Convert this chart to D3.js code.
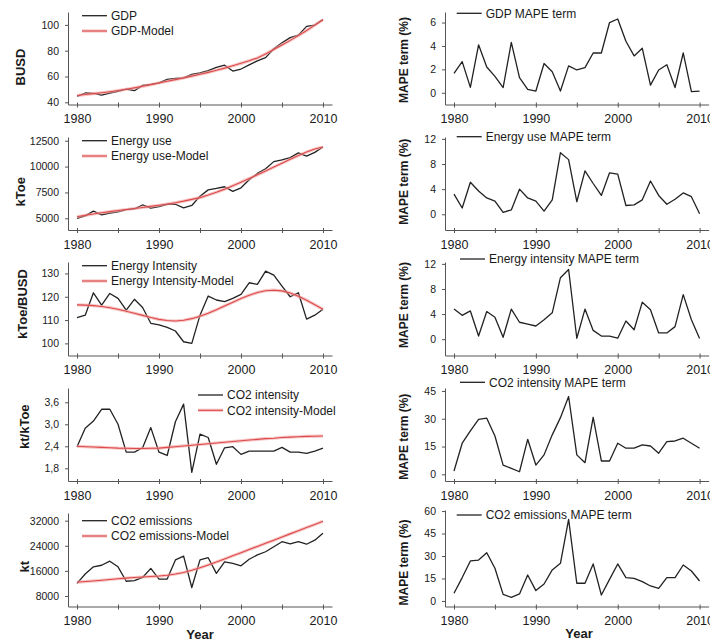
<!DOCTYPE html>
<html><head><meta charset="utf-8">
<script src="https://cdn.jsdelivr.net/npm/d3@7"></script>
<style>
body{margin:0;background:#fff}
svg{display:block;font-family:"Liberation Sans",Arial,sans-serif}
</style>
</head><body>
<svg id="c" width="710" height="643"></svg>
<script>
// ---------------- DATA ----------------
const years = [1980,1981,1982,1983,1984,1985,1986,1987,1988,1989,1990,1991,1992,1993,1994,1995,1996,1997,1998,1999,2000,2001,2002,2003,2004,2005,2006,2007,2008,2009,2010];
const xMajorTicks = [1980,1990,2000,2010];
const xMinorTicks = [1985,1995,2005];

const gdp       = [44.6,47.2,46.9,45.5,47.1,48.4,50.3,49.0,53.1,53.9,55.1,57.7,58.6,59.0,61.7,62.9,64.6,67.0,68.8,64.2,65.8,69.0,72.1,74.6,81.5,86.1,90.1,92.1,98.9,99.9,104.2];
const gdpModel  = [45.3,46.0,46.7,47.4,48.2,49.1,50.1,51.2,52.4,53.7,55.0,56.3,57.6,58.9,60.3,61.7,63.2,64.8,66.5,68.3,70.2,72.2,74.4,77.5,81.0,84.5,88.0,91.7,95.6,99.8,104.0];
const gdpMape   = [1.66,2.66,0.46,4.1,2.2,1.4,0.45,4.3,1.3,0.3,0.15,2.5,1.8,0.15,2.3,1.95,2.15,3.4,3.4,6.0,6.3,4.4,3.15,3.8,0.65,1.95,2.4,0.45,3.4,0.1,0.15];

const energy      = [4985,5240,5700,5335,5500,5630,5830,5910,6290,5990,6130,6350,6360,6010,6240,7140,7750,7890,8050,7610,7950,8720,9340,9790,10480,10640,10870,11330,11010,11370,11890];
const energyModel = [5150,5290,5420,5540,5650,5750,5850,5950,6050,6150,6260,6380,6510,6660,6830,7000,7250,7520,7820,8150,8490,8840,9200,9570,9950,10330,10700,11060,11400,11700,11900];
const energyMape  = [3.2,1.0,5.1,3.7,2.6,2.1,0.3,0.7,4.0,2.6,2.1,0.5,2.3,9.8,8.7,2.0,6.9,4.9,3.0,6.6,6.4,1.4,1.5,2.3,5.3,3.0,1.6,2.4,3.4,2.8,0.1];

const intensity      = [111.0,112.1,121.7,116.4,121.4,119.3,114.3,118.9,115.4,108.6,107.9,106.9,105.3,100.7,100.0,112.1,120.3,118.6,117.9,119.3,121.0,126.0,125.3,131.0,129.3,124.6,120.0,121.7,110.4,112.1,114.6];
const intensityModel = [116.5,116.4,116.2,115.8,115.3,114.6,113.8,112.9,112.0,111.1,110.3,109.8,109.6,109.9,110.6,111.6,112.9,114.4,116.0,117.6,119.2,120.6,121.8,122.6,122.8,122.5,121.6,120.2,118.5,116.6,114.6];
const intensityMape  = [4.8,3.8,4.5,0.5,4.4,3.5,0.3,4.8,2.7,2.4,2.1,3.1,4.2,9.8,11.1,0.15,4.8,1.4,0.5,0.5,0.15,2.9,1.5,5.9,4.7,1.0,1.0,2.0,7.1,3.1,0.1];

const co2Int      = [2.39,2.89,3.09,3.41,3.41,3.00,2.24,2.24,2.36,2.91,2.24,2.15,3.07,3.55,1.69,2.73,2.64,1.91,2.36,2.39,2.18,2.27,2.27,2.27,2.27,2.37,2.24,2.24,2.21,2.27,2.35];
const co2IntModel = [2.40,2.39,2.38,2.37,2.36,2.35,2.345,2.34,2.34,2.345,2.35,2.37,2.39,2.41,2.43,2.45,2.47,2.49,2.51,2.53,2.55,2.57,2.59,2.61,2.62,2.64,2.65,2.66,2.67,2.675,2.68];
const co2IntMape  = [1.8,16.8,23.4,29.7,30.3,20.7,5.0,3.2,1.4,18.9,5.0,10.5,21.3,30.6,42.0,10.5,6.3,30.8,7.2,7.2,16.8,14.1,14.1,15.9,15.3,11.4,17.7,18.0,19.5,16.8,14.1];

const co2Em      = [12000,15000,17300,17800,19100,17300,12700,12900,13900,16800,13400,13400,19500,20700,10700,19500,20200,15200,18900,18400,17600,19700,21100,22100,23700,25300,24600,25300,24500,25800,28000];
const co2EmModel = [12400,12600,12800,13000,13250,13500,13700,13900,14050,14200,14350,14600,15000,15500,16200,17000,17900,18800,19800,20800,21800,22800,23800,24800,25800,26800,27800,28800,29800,30800,31800];
const co2EmMape  = [5.1,15.6,26.7,27.3,32.2,21.8,4.4,2.4,4.7,17.3,6.9,11.3,20.7,25.1,54.4,11.8,11.8,24.7,4.0,14.4,24.7,15.6,15.1,12.9,10.0,8.4,15.6,15.6,24.0,20.0,13.3];

const gdpTicks = [40,60,80,100];
const energyTicks = [5000,7500,10000,12500];
const intensityTicks = [100,110,120,130];
const co2IntTicks = [1.8,2.4,3.0,3.6];
const co2IntTickLabels = ["1,8","2,4","3,0","3,6"];
const co2EmTicks = [8000,16000,24000,32000];
const gdpMapeTicks = [0,2,4,6];
const energyMapeTicks = [0,4,8,12];
const intensityMapeTicks = [0,4,8,12];
const co2IntMapeTicks = [0,15,30,45];
const co2EmMapeTicks = [0,15,30,45,60];

// ---------------- LAYOUT ----------------
const svg = d3.select("#c");
const cols = [{x0:68, x1:332}, {x0:445, x1:708.6}];
const rows = [{top:12,bottom:104.5},{top:137,bottom:230},{top:262,bottom:355.5},{top:388,bottom:481},{top:513,bottom:606.5}];

const panels = [
  {col:0,row:0,domain:[38.3,110],ticks:gdpTicks,title:"BUSD",tx:20,ty:67,
   black:gdp,red:gdpModel,legend:["GDP","GDP-Model"],lx:82,ly:15.7},
  {col:1,row:0,domain:[-1,6.9],ticks:gdpMapeTicks,title:"MAPE term (%)",tx:404,ty:60,
   black:gdpMape,legend:["GDP MAPE term"],lx:456.7,ly:13.3},
  {col:0,row:1,domain:[3870,12860],ticks:energyTicks,title:"kToe",tx:20,ty:191.7,
   black:energy,red:energyModel,legend:["Energy use","Energy use-Model"],lx:82,ly:140.7},
  {col:1,row:1,domain:[-2.5,12.3],ticks:energyMapeTicks,title:"MAPE term (%)",tx:404,ty:181.7,
   black:energyMape,legend:["Energy use MAPE term"],lx:456.7,ly:136.7},
  {col:0,row:2,domain:[94.8,134.9],ticks:intensityTicks,title:"kToe/BUSD",tx:22,ty:304,
   black:intensity,red:intensityModel,legend:["Energy Intensity","Energy Intensity-Model"],lx:82,ly:265.7},
  {col:1,row:2,domain:[-2.6,12.3],ticks:intensityMapeTicks,title:"MAPE term (%)",tx:404,ty:305,
   black:intensityMape,legend:["Energy intensity MAPE term"],lx:460,ly:259},
  {col:0,row:3,domain:[1.454,3.99],ticks:co2IntTicks,tickLabels:co2IntTickLabels,title:"kt/kToe",tx:24,ty:426.7,
   black:co2Int,red:co2IntModel,legend:["CO2 intensity","CO2 intensity-Model"],lx:198,ly:395},
  {col:1,row:3,domain:[-3.6,46.6],ticks:co2IntMapeTicks,title:"MAPE term (%)",tx:404,ty:436.7,
   black:co2IntMape,legend:["CO2 intensity MAPE term"],lx:460,ly:382.3},
  {col:0,row:4,domain:[4650,34450],ticks:co2EmTicks,title:"kt",tx:24,ty:566.7,
   black:co2Em,red:co2EmModel,legend:["CO2 emissions","CO2 emissions-Model"],lx:82,ly:520.7},
  {col:1,row:4,domain:[-3.7,60.7],ticks:co2EmMapeTicks,title:"MAPE term (%)",tx:404,ty:562.5,top:510,
   black:co2EmMape,legend:["CO2 emissions MAPE term"],lx:456.7,ly:515}
];

const axisColor = "#555";
const textColor = "#1a1a1a";

panels.forEach(p => {
  const c = cols[p.col], r = rows[p.row];
  const top = p.top || r.top;
  const x = d3.scaleLinear().domain([1978.9, 2011.1]).range([c.x0, c.x1]);
  const y = d3.scaleLinear().domain(p.domain).range([r.bottom, top]);
  const g = svg.append("g");

  // x axis
  const xa = g.append("g").attr("transform", `translate(0,${r.bottom})`)
    .call(d3.axisBottom(x).tickValues(xMajorTicks).tickFormat(d3.format("d")).tickSize(3).tickSizeOuter(0).tickPadding(7));
  xa.select(".domain").attr("stroke", axisColor);
  xa.selectAll(".tick line").attr("stroke", axisColor).attr("y1", -2);
  xa.selectAll(".tick text").attr("fill", textColor).style("font-size", "12.5px");
  const xm = g.append("g").attr("transform", `translate(0,${r.bottom})`)
    .call(d3.axisBottom(x).tickValues(xMinorTicks).tickFormat("").tickSize(3).tickSizeOuter(0));
  xm.select(".domain").remove();
  xm.selectAll(".tick line").attr("stroke", axisColor).attr("y1", -2);

  // y axis
  const ya = g.append("g").attr("transform", `translate(${c.x0},0)`)
    .call(d3.axisLeft(y).tickValues(p.ticks)
      .tickFormat((d,i) => p.tickLabels ? p.tickLabels[i] : d3.format("d")(d))
      .tickSize(3).tickSizeOuter(0).tickPadding(6));
  ya.select(".domain").attr("stroke", axisColor);
  ya.selectAll(".tick line").attr("stroke", axisColor);
  ya.selectAll(".tick text").attr("fill", textColor).style("font-size", "10.5px");

  // y title
  g.append("text")
    .attr("transform", `translate(${p.tx},${p.ty}) rotate(-90)`)
    .attr("text-anchor", "middle").attr("dy", "0.36em")
    .style("font-size", p.col === 0 ? "13px" : "12px").style("font-weight", "bold")
    .attr("fill", textColor).text(p.title);

  const line = d3.line().x((d,i) => x(years[i])).y(d => y(d));

  g.append("path").datum(p.black).attr("d", line)
    .attr("fill", "none").attr("stroke", "#222").attr("stroke-width", 1.3).attr("stroke-linejoin", "round");
  if (p.red) {
    g.append("path").datum(p.red).attr("d", line)
      .attr("fill", "none").attr("stroke", "#f2a0a0").attr("stroke-opacity", 0.6).attr("stroke-width", 3.2);
    g.append("path").datum(p.red).attr("d", line)
      .attr("fill", "none").attr("stroke", "#dc4a4a").attr("stroke-width", 1.1);
  }

  // legend
  p.legend.forEach((lab, i) => {
    const ly = p.ly + i * 15.3;
    if (i === 0) {
      g.append("line").attr("x1", p.lx).attr("x2", p.lx + 25).attr("y1", ly).attr("y2", ly)
        .attr("stroke", "#222").attr("stroke-width", 1.3);
    } else {
      g.append("line").attr("x1", p.lx).attr("x2", p.lx + 25).attr("y1", ly).attr("y2", ly)
        .attr("stroke", "#f2a0a0").attr("stroke-opacity", 0.6).attr("stroke-width", 3.2);
      g.append("line").attr("x1", p.lx).attr("x2", p.lx + 25).attr("y1", ly).attr("y2", ly)
        .attr("stroke", "#dc4a4a").attr("stroke-width", 1.1);
    }
    g.append("text").attr("x", p.lx + 29).attr("y", ly).attr("dy", "0.35em")
      .style("font-size", "12px").attr("fill", textColor).text(lab);
  });
});

// x axis titles
svg.append("text").attr("x", 200).attr("y", 639).attr("text-anchor", "middle")
  .style("font-size", "13px").style("font-weight", "bold").attr("fill", textColor).text("Year");
svg.append("text").attr("x", 579).attr("y", 638).attr("text-anchor", "middle")
  .style("font-size", "13px").style("font-weight", "bold").attr("fill", textColor).text("Year");
</script>
</body></html>
